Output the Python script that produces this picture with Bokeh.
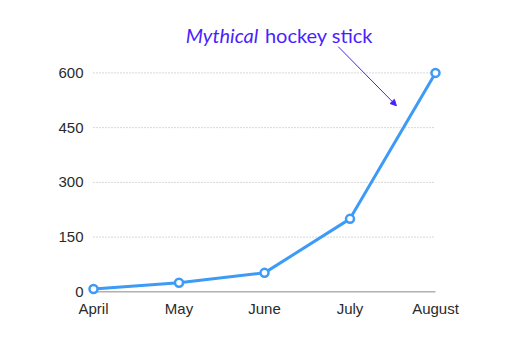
from bokeh.plotting import figure
from bokeh.models import Range1d, Label, Arrow, NormalHead, FixedTicker, ColumnDataSource
from bokeh.embed import file_html
from bokeh.resources import INLINE

months = ["April", "May", "June", "July", "August"]
values = [8, 25, 52, 200, 600]
y_ticks = [0, 150, 300, 450, 600]
grid_ticks = [150, 300, 450, 600]

xs = list(range(len(months)))

p = figure(width=510, height=340, output_backend="svg", toolbar_location=None,
           x_range=Range1d(-0.082, len(months) - 1 + 0.082),
           y_range=Range1d(-10, 760),
           min_border_left=86, min_border_right=68, min_border_top=14, min_border_bottom=45)
p.outline_line_color = None
p.background_fill_color = "white"
p.border_fill_color = "white"

# gridlines (dotted) from first to last month
p.segment(x0=[xs[0]] * len(grid_ticks), x1=[xs[-1]] * len(grid_ticks), y0=grid_ticks, y1=grid_ticks,
          line_color="#b0b0b0", line_width=1, line_dash="1 2")
# baseline
p.segment(x0=[xs[0]], x1=[xs[-1]], y0=[0], y1=[0], line_color="#8a8a8a", line_width=1)

src = ColumnDataSource(dict(x=xs, y=values))
p.line("x", "y", source=src, line_color="#3d9bf7", line_width=3)
p.scatter("x", "y", source=src, size=8, fill_color="white", line_color="#3d9bf7", line_width=2.5)

p.xgrid.visible = False
p.ygrid.visible = False

for ax in (p.xaxis[0], p.yaxis[0]):
    ax.axis_line_color = None
    ax.major_tick_line_color = None
    ax.minor_tick_line_color = None
    ax.major_tick_out = 0
    ax.major_tick_in = 0
    ax.minor_tick_out = 0
    ax.minor_tick_in = 0
    ax.major_label_text_font = "Liberation Sans"
    ax.major_label_text_font_size = "15px"
    ax.major_label_text_color = "#2a2a2a"

p.xaxis.ticker = FixedTicker(ticks=xs)
p.xaxis.major_label_overrides = {i: m for i, m in enumerate(months)}
p.yaxis.ticker = FixedTicker(ticks=y_ticks)
p.xaxis.major_label_standoff = 4
p.yaxis.major_label_standoff = 3

# annotation (data coordinates)
p.add_layout(Label(x=1.079, y=705, text="Mythical", text_font="Lato", text_font_style="italic",
                   text_font_size="20px", text_color="#4a1fff", text_baseline="alphabetic"))
p.add_layout(Label(x=2.005, y=705, text="hockey stick", text_font="Lato",
                   text_font_size="20px", text_color="#4a1fff", text_baseline="alphabetic"))
p.add_layout(Arrow(x_start=2.862, y_start=672, x_end=3.543, y_end=510,
                   line_color="#4a1fff", line_width=1,
                   end=NormalHead(size=6, fill_color="#4a1fff", line_color="#4a1fff")))

open("out.html", "w").write(file_html(p, INLINE))
